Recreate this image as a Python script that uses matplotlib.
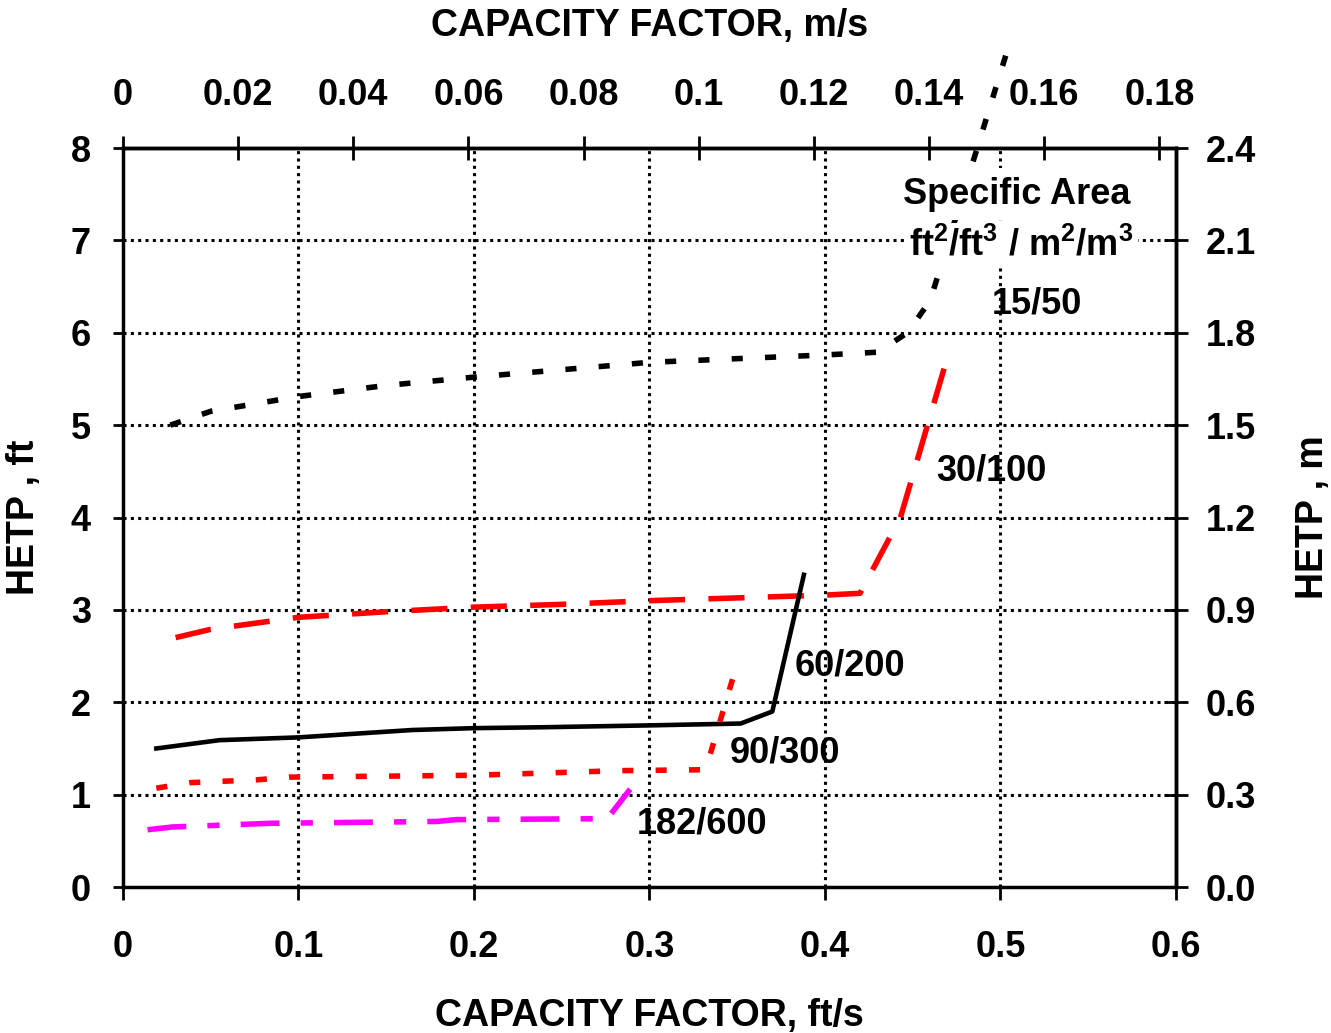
import matplotlib.pyplot as plt

plt.rcParams['font.family'] = ['Liberation Sans', 'DejaVu Sans']
plt.rcParams['font.weight'] = 'bold'
plt.rcParams['axes.labelweight'] = 'bold'
plt.rcParams['font.size'] = 26
plt.rcParams['mathtext.fontset'] = 'custom'
plt.rcParams['mathtext.rm'] = 'Liberation Sans:bold'
plt.rcParams['mathtext.it'] = 'Liberation Sans:bold'
plt.rcParams['mathtext.bf'] = 'Liberation Sans:bold'

# capacity factor (ft/s) vs HETP (ft)
cf_15 = [0.027, 0.05, 0.1, 0.15, 0.2, 0.25, 0.3, 0.35, 0.4, 0.43, 0.447, 0.46, 0.503]
hetp_15 = [5.0, 5.15, 5.31, 5.43, 5.52, 5.6, 5.68, 5.72, 5.76, 5.79, 6.0, 6.35, 9.0]

cf_30 = [0.03, 0.05, 0.1, 0.15, 0.2, 0.25, 0.3, 0.35, 0.4, 0.42, 0.443, 0.468]
hetp_30 = [2.70, 2.79, 2.92, 2.98, 3.03, 3.06, 3.10, 3.13, 3.16, 3.18, 4.0, 5.62]

cf_60 = [0.019, 0.055, 0.1, 0.165, 0.2, 0.24, 0.3, 0.352, 0.37, 0.388]
hetp_60 = [1.50, 1.59, 1.62, 1.70, 1.72, 1.73, 1.75, 1.77, 1.90, 3.38]

cf_90 = [0.019, 0.038, 0.076, 0.095, 0.2, 0.283, 0.332, 0.35]
hetp_90 = [1.07, 1.13, 1.16, 1.19, 1.21, 1.26, 1.27, 2.42]

cf_182 = [0.014, 0.028, 0.084, 0.179, 0.19, 0.276, 0.289]
hetp_182 = [0.62, 0.65, 0.69, 0.71, 0.73, 0.74, 1.06]

labels = ["15/50", "30/100", "60/200", "90/300", "182/600"]
label_x = [0.521, 0.495, 0.414, 0.377, 0.330]
label_y = [6.31, 4.50, 2.39, 1.45, 0.68]

x_ticks = [0, 0.1, 0.2, 0.3, 0.4, 0.5, 0.6]
y_ticks = [0, 1, 2, 3, 4, 5, 6, 7, 8]
top_ticks = [0, 0.02, 0.04, 0.06, 0.08, 0.1, 0.12, 0.14, 0.16, 0.18]
right_ticks = [0.0, 0.3, 0.6, 0.9, 1.2, 1.5, 1.8, 2.1, 2.4]

FT_TO_M = 0.3048

fig = plt.figure(figsize=(13.31, 10.33), dpi=100)
ax = fig.add_axes([0.0924, 0.1413, 0.7911, 0.7154])

ax.plot(cf_15, hetp_15, color='black', lw=4, dashes=(2, 4), clip_on=False, zorder=5)
ax.plot(cf_30, hetp_30, color='red', lw=4, dashes=(6.5, 4.2), zorder=5)
ax.plot(cf_60, hetp_60, color='black', lw=3.3, zorder=5)
ax.plot(cf_90, hetp_90, color='red', lw=4, dashes=(2, 4), zorder=5)
ax.plot(cf_182, hetp_182, color='magenta', lw=4, dashes=(7, 3.8, 2.2, 3.8), zorder=5)

for s, x, y in zip(labels, label_x, label_y):
    ax.text(x, y, s, ha='center', va='center', zorder=4)

# title of the legend-like labels sits on a white box (hides grid and the 15/50 line)
ax.text(0.509, 7.50, "Specific Area", ha='center', va='center', zorder=6,
        bbox=dict(facecolor='white', edgecolor='none', pad=6))
ax.text(0.512, 6.95, "ft$^2$/ft$^3$ / m$^2$/m$^3$", ha='center', va='center', zorder=6,
        bbox=dict(facecolor='white', edgecolor='none', pad=3))

ax.set_xlim(0, 0.6)
ax.set_ylim(0, 8)
ax.set_xticks(x_ticks)
ax.set_xticklabels(["%g" % v for v in x_ticks])
ax.set_yticks(y_ticks)
ax.grid(True, color='black', linestyle=(0, (1, 1.4)), linewidth=2.2)
ax.tick_params(axis='x', direction='out', length=9, width=2, pad=22)
ax.tick_params(axis='y', direction='out', length=7, width=2, pad=16)
for sp in ax.spines.values():
    sp.set_linewidth(2.5)

ax.set_xlabel("CAPACITY FACTOR, ft/s", fontsize=27)
ax.xaxis.set_label_coords(0.5, -0.15)
ax.set_ylabel("HETP , ft", fontsize=27)
ax.yaxis.set_label_coords(-0.077, 0.5)

secx = ax.secondary_xaxis('top', functions=(lambda x: x * FT_TO_M, lambda x: x / FT_TO_M))
secx.set_xticks(top_ticks)
secx.set_xticklabels(["%g" % v for v in top_ticks])
secx.tick_params(direction='inout', length=17, width=2, pad=17)
secx.spines['top'].set_linewidth(2.5)
secx.set_xlabel("CAPACITY FACTOR, m/s", fontsize=27)
secx.xaxis.set_label_coords(0.5, 1.152, transform=ax.transAxes)

secy = ax.secondary_yaxis('right', functions=(lambda y: y * 0.3, lambda y: y / 0.3))
secy.set_yticks(right_ticks)
secy.set_yticklabels(["%.1f" % v for v in right_ticks])
secy.tick_params(direction='inout', length=17, width=2, pad=13)
secy.spines['right'].set_linewidth(2.5)
secy.set_ylabel("HETP , m", fontsize=27)
secy.yaxis.set_label_coords(1.113, 0.5, transform=ax.transAxes)

plt.savefig("out.png", dpi=100)
